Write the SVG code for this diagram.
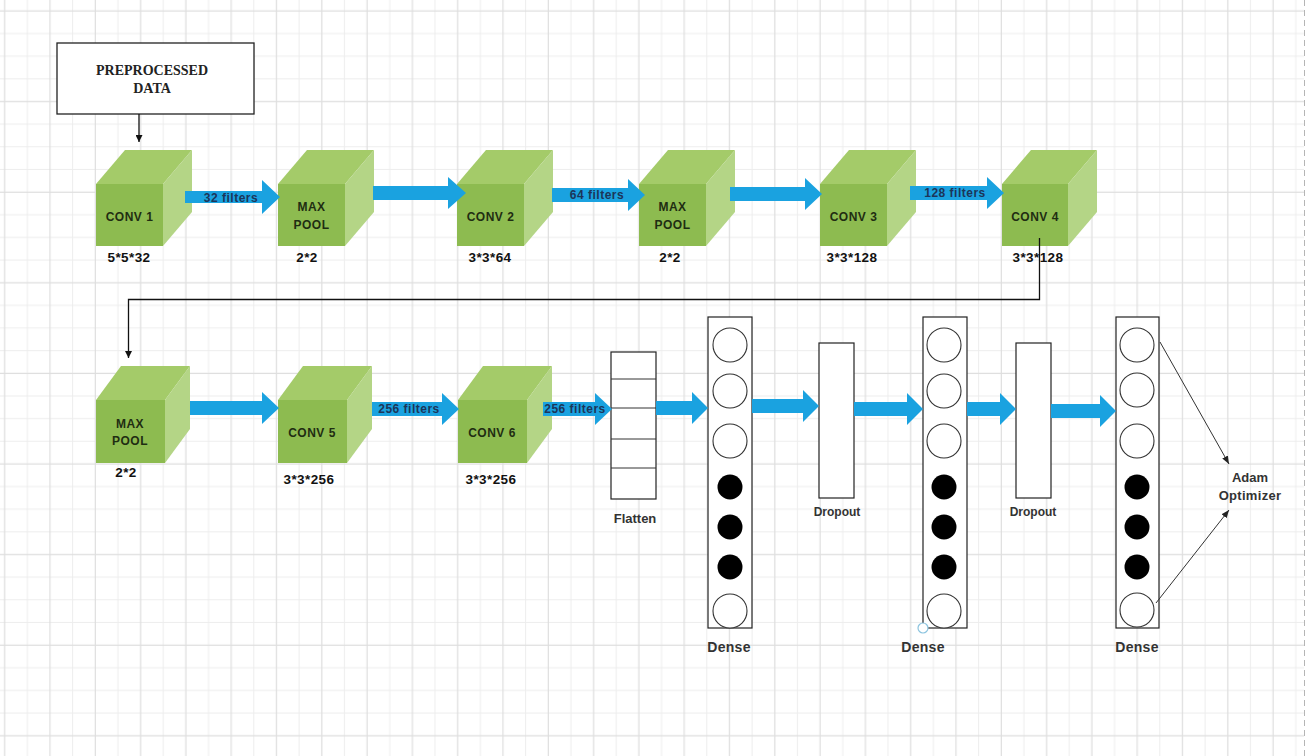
<svg xmlns="http://www.w3.org/2000/svg" width="1313" height="756" viewBox="0 0 1313 756">
  <defs>
    <pattern id="grid" patternUnits="userSpaceOnUse" x="-6.6" y="-0.3" width="90.6" height="90.6">
      <path d="M33.95 0V90.6M79.25 0V90.6M0 33.95H90.6M0 56.6H90.6M0 79.25H90.6" stroke="#ededed" stroke-width="1" fill="none"/>
      <path d="M11.3 0V90.6M56.6 0V90.6M0 11.3H90.6" stroke="#dedede" stroke-width="1.2" fill="none"/>
    </pattern>
    <marker id="tip" viewBox="0 0 10 10" refX="10" refY="5" markerWidth="7" markerHeight="7" markerUnits="userSpaceOnUse" orient="auto">
      <path d="M0 0L10 5L0 10Z" fill="#111"/>
    </marker>
    <marker id="tipThin" viewBox="0 0 10 10" refX="10" refY="5" markerWidth="8" markerHeight="8" markerUnits="userSpaceOnUse" orient="auto">
      <path d="M0 1L10 5L0 9Z" fill="#222"/>
    </marker>
  </defs>
  <style>
    .front { fill: #8dbb50; }
    .top { fill: #a4cb69; }
    .side { fill: #b4d586; }
    .cube-label { font-family: "Liberation Sans", Arial, sans-serif; font-weight: bold; font-size: 12px; fill: #1f2d12; text-anchor: middle; letter-spacing: 0.5px; }
    .dim { font-family: "Liberation Sans", Arial, sans-serif; font-weight: bold; font-size: 13.5px; fill: #111; text-anchor: middle; letter-spacing: 0.4px; }
    .flow { fill: #1aa2e0; }
    .flow-label { font-family: "Liberation Sans", Arial, sans-serif; font-weight: bold; font-size: 12px; fill: #1c3559; text-anchor: middle; letter-spacing: 0.5px; }
    .box { fill: #fff; stroke: #222; stroke-width: 1.2; }
    .unit { fill: #fff; stroke: #333; stroke-width: 1.1; }
    .unit-on { fill: #000; }
    .caption { font-family: "Liberation Sans", Arial, sans-serif; font-weight: bold; fill: #333; text-anchor: middle; }
    .wire { fill: none; stroke: #111; stroke-width: 1.3; }
    .thin { fill: none; stroke: #333; stroke-width: 1; }
  </style>

  <!-- canvas and grid -->
  <rect width="1313" height="756" fill="#fff"/>
  <rect x="0" y="0" width="1304" height="756" fill="url(#grid)"/>
  <line x1="1304.5" y1="0" x2="1304.5" y2="756" stroke="#b5b5b5" stroke-width="1" stroke-dasharray="6 4"/>

  <!-- input -->
  <g id="input">
    <rect x="57" y="43" width="197" height="71" fill="#fff" stroke="#222" stroke-width="1.3"/>
    <text x="152" y="75" text-anchor="middle" font-family="Liberation Serif, 'Times New Roman', serif" font-weight="bold" font-size="14" fill="#222">PREPROCESSED</text>
    <text x="152" y="93" text-anchor="middle" font-family="Liberation Serif, 'Times New Roman', serif" font-weight="bold" font-size="14" fill="#222">DATA</text>
  </g>

  <!-- row 1: convolution and pooling blocks -->
  <g id="conv1">
    <polygon class="top" points="96,184 125,150 192,150 163,184"/>
    <polygon class="side" points="163,184 192,150 192,212 163,246"/>
    <rect class="front" x="96" y="184" width="67" height="62"/>
    <text class="cube-label" x="129.5" y="221">CONV 1</text>
    <text class="dim" x="129" y="262">5*5*32</text>
  </g>
  <g id="pool1">
    <polygon class="top" points="278,184 307,150 374,150 345,184"/>
    <polygon class="side" points="345,184 374,150 374,212 345,246"/>
    <rect class="front" x="278" y="184" width="67" height="62"/>
    <text class="cube-label" x="311.5" y="211">MAX</text>
    <text class="cube-label" x="311.5" y="229">POOL</text>
    <text class="dim" x="307" y="262">2*2</text>
  </g>
  <g id="conv2">
    <polygon class="top" points="457,184 486,150 553,150 524,184"/>
    <polygon class="side" points="524,184 553,150 553,212 524,246"/>
    <rect class="front" x="457" y="184" width="67" height="62"/>
    <text class="cube-label" x="490.5" y="221">CONV 2</text>
    <text class="dim" x="490" y="262">3*3*64</text>
  </g>
  <g id="pool2">
    <polygon class="top" points="639,184 668,150 735,150 706,184"/>
    <polygon class="side" points="706,184 735,150 735,212 706,246"/>
    <rect class="front" x="639" y="184" width="67" height="62"/>
    <text class="cube-label" x="672.5" y="211">MAX</text>
    <text class="cube-label" x="672.5" y="229">POOL</text>
    <text class="dim" x="670" y="262">2*2</text>
  </g>
  <g id="conv3">
    <polygon class="top" points="820,184 849,150 916,150 887,184"/>
    <polygon class="side" points="887,184 916,150 916,212 887,246"/>
    <rect class="front" x="820" y="184" width="67" height="62"/>
    <text class="cube-label" x="853.5" y="221">CONV 3</text>
    <text class="dim" x="852" y="262">3*3*128</text>
  </g>
  <g id="conv4">
    <polygon class="top" points="1002,184 1031,150 1097,150 1068,184"/>
    <polygon class="side" points="1068,184 1097,150 1097,212 1068,246"/>
    <rect class="front" x="1002" y="184" width="66" height="62"/>
    <text class="cube-label" x="1035" y="221">CONV 4</text>
    <text class="dim" x="1038" y="262">3*3*128</text>
  </g>

  <!-- row 2 blocks -->
  <g id="pool3">
    <polygon class="top" points="96,400 121,366 190,366 165,400"/>
    <polygon class="side" points="165,400 190,366 190,429 165,463"/>
    <rect class="front" x="96" y="400" width="69" height="63"/>
    <text class="cube-label" x="130" y="428">MAX</text>
    <text class="cube-label" x="130" y="445">POOL</text>
    <text class="dim" x="126" y="477">2*2</text>
  </g>
  <g id="conv5">
    <polygon class="top" points="278,400 303,366 372,366 347,400"/>
    <polygon class="side" points="347,400 372,366 372,429 347,463"/>
    <rect class="front" x="278" y="400" width="69" height="63"/>
    <text class="cube-label" x="312" y="437">CONV 5</text>
    <text class="dim" x="309" y="484">3*3*256</text>
  </g>
  <g id="conv6">
    <polygon class="top" points="458,400 483,366 552,366 527,400"/>
    <polygon class="side" points="527,400 552,366 552,429 527,463"/>
    <rect class="front" x="458" y="400" width="69" height="63"/>
    <text class="cube-label" x="492" y="437">CONV 6</text>
    <text class="dim" x="491" y="484">3*3*256</text>
  </g>

  <!-- flatten -->
  <g id="flatten">
    <rect class="box" x="611" y="352" width="45" height="147"/>
    <path d="M611 379H656M611 408H656M611 439H656M611 468H656" class="thin" stroke="#222" stroke-width="1.2"/>
    <text class="caption" x="635" y="523" font-size="13">Flatten</text>
  </g>

  <!-- dense 1 -->
  <g id="dense1">
    <rect class="box" x="708" y="317" width="44" height="311"/>
    <circle class="unit" cx="730" cy="345" r="17"/>
    <circle class="unit" cx="730" cy="391" r="17"/>
    <circle class="unit" cx="730" cy="441" r="17"/>
    <circle class="unit-on" cx="730" cy="487" r="12.5"/>
    <circle class="unit-on" cx="730" cy="527" r="12.5"/>
    <circle class="unit-on" cx="730" cy="567" r="12.5"/>
    <circle class="unit" cx="730" cy="611" r="17"/>
    <text class="caption" x="729" y="652" font-size="14" letter-spacing="0.3">Dense</text>
  </g>

  <!-- dropout 1 -->
  <g id="dropout1">
    <rect class="box" x="819" y="343" width="35" height="155"/>
    <text class="caption" x="837" y="516" font-size="12" fill="#444">Dropout</text>
  </g>

  <!-- dense 2 -->
  <g id="dense2">
    <rect class="box" x="923" y="317" width="44" height="311"/>
    <circle class="unit" cx="944" cy="345" r="17"/>
    <circle class="unit" cx="944" cy="391" r="17"/>
    <circle class="unit" cx="944" cy="441" r="17"/>
    <circle class="unit-on" cx="944" cy="487" r="12.5"/>
    <circle class="unit-on" cx="944" cy="527" r="12.5"/>
    <circle class="unit-on" cx="944" cy="567" r="12.5"/>
    <circle class="unit" cx="944" cy="611" r="17"/>
    <circle cx="923" cy="628" r="5" fill="#fff" stroke="#8cc4df" stroke-width="1.2"/>
    <text class="caption" x="923" y="652" font-size="14" letter-spacing="0.3">Dense</text>
  </g>

  <!-- dropout 2 -->
  <g id="dropout2">
    <rect class="box" x="1016" y="343" width="35" height="155"/>
    <text class="caption" x="1033" y="516" font-size="12" fill="#444">Dropout</text>
  </g>

  <!-- dense 3 -->
  <g id="dense3">
    <rect class="box" x="1116" y="317" width="43" height="311"/>
    <circle class="unit" cx="1137" cy="345" r="17"/>
    <circle class="unit" cx="1137" cy="390" r="17"/>
    <circle class="unit" cx="1137" cy="441" r="17"/>
    <circle class="unit-on" cx="1137" cy="487" r="12.5"/>
    <circle class="unit-on" cx="1137" cy="527" r="12.5"/>
    <circle class="unit-on" cx="1137" cy="567" r="12.5"/>
    <circle class="unit" cx="1137" cy="610" r="17"/>
    <text class="caption" x="1137" y="652" font-size="14" letter-spacing="0.3">Dense</text>
  </g>

  <!-- optimizer -->
  <g id="optimizer">
    <text class="caption" x="1250" y="482" font-size="13" fill="#222">Adam</text>
    <text class="caption" x="1250" y="500" font-size="13" fill="#222" letter-spacing="0.3">Optimizer</text>
  </g>

  <!-- connectors -->
  <g id="connectors">
    <path class="wire" d="M139 114V142" marker-end="url(#tip)"/>
    <path class="wire" d="M1039.5 238V299.5H128.5V358" marker-end="url(#tip)"/>
    <path class="thin" d="M1160 342L1229 464" marker-end="url(#tipThin)"/>
    <path class="thin" d="M1156 603L1229 510" marker-end="url(#tipThin)"/>

    <!-- block arrows, row 1 -->
    <path class="flow" d="M185 191H262V180L280 197L262 214V203H185Z"/>
    <path class="flow" d="M373 186H448V177L466 193L448 209V200H373Z"/>
    <path class="flow" d="M552 188H628V179L645 195L628 211V202H552Z"/>
    <path class="flow" d="M730 187H805V178L822 194L805 210V201H730Z"/>
    <path class="flow" d="M910 186H987V177L1004 193L987 209V200H910Z"/>
    <!-- block arrows, row 2 -->
    <path class="flow" d="M190 401H262V392L279 408L262 424V415H190Z"/>
    <path class="flow" d="M372 402H442V393L459 409L442 425V416H372Z"/>
    <path class="flow" d="M543 402H595V393L612 409L595 425V416H543Z"/>
    <path class="flow" d="M656 401H692V392L708 408L692 424V415H656Z"/>
    <path class="flow" d="M752 399H803V390L819 406L803 422V413H752Z"/>
    <path class="flow" d="M854 402H907V393L923 409L907 425V416H854Z"/>
    <path class="flow" d="M967 402H1000V393L1016 409L1000 425V416H967Z"/>
    <path class="flow" d="M1051 404H1100V395L1116 411L1100 427V418H1051Z"/>

    <text class="flow-label" x="231" y="202">32 filters</text>
    <text class="flow-label" x="597" y="199">64 filters</text>
    <text class="flow-label" x="955" y="197">128 filters</text>
    <text class="flow-label" x="409" y="413">256 filters</text>
    <text class="flow-label" x="575" y="413">256 filters</text>
  </g>
</svg>
